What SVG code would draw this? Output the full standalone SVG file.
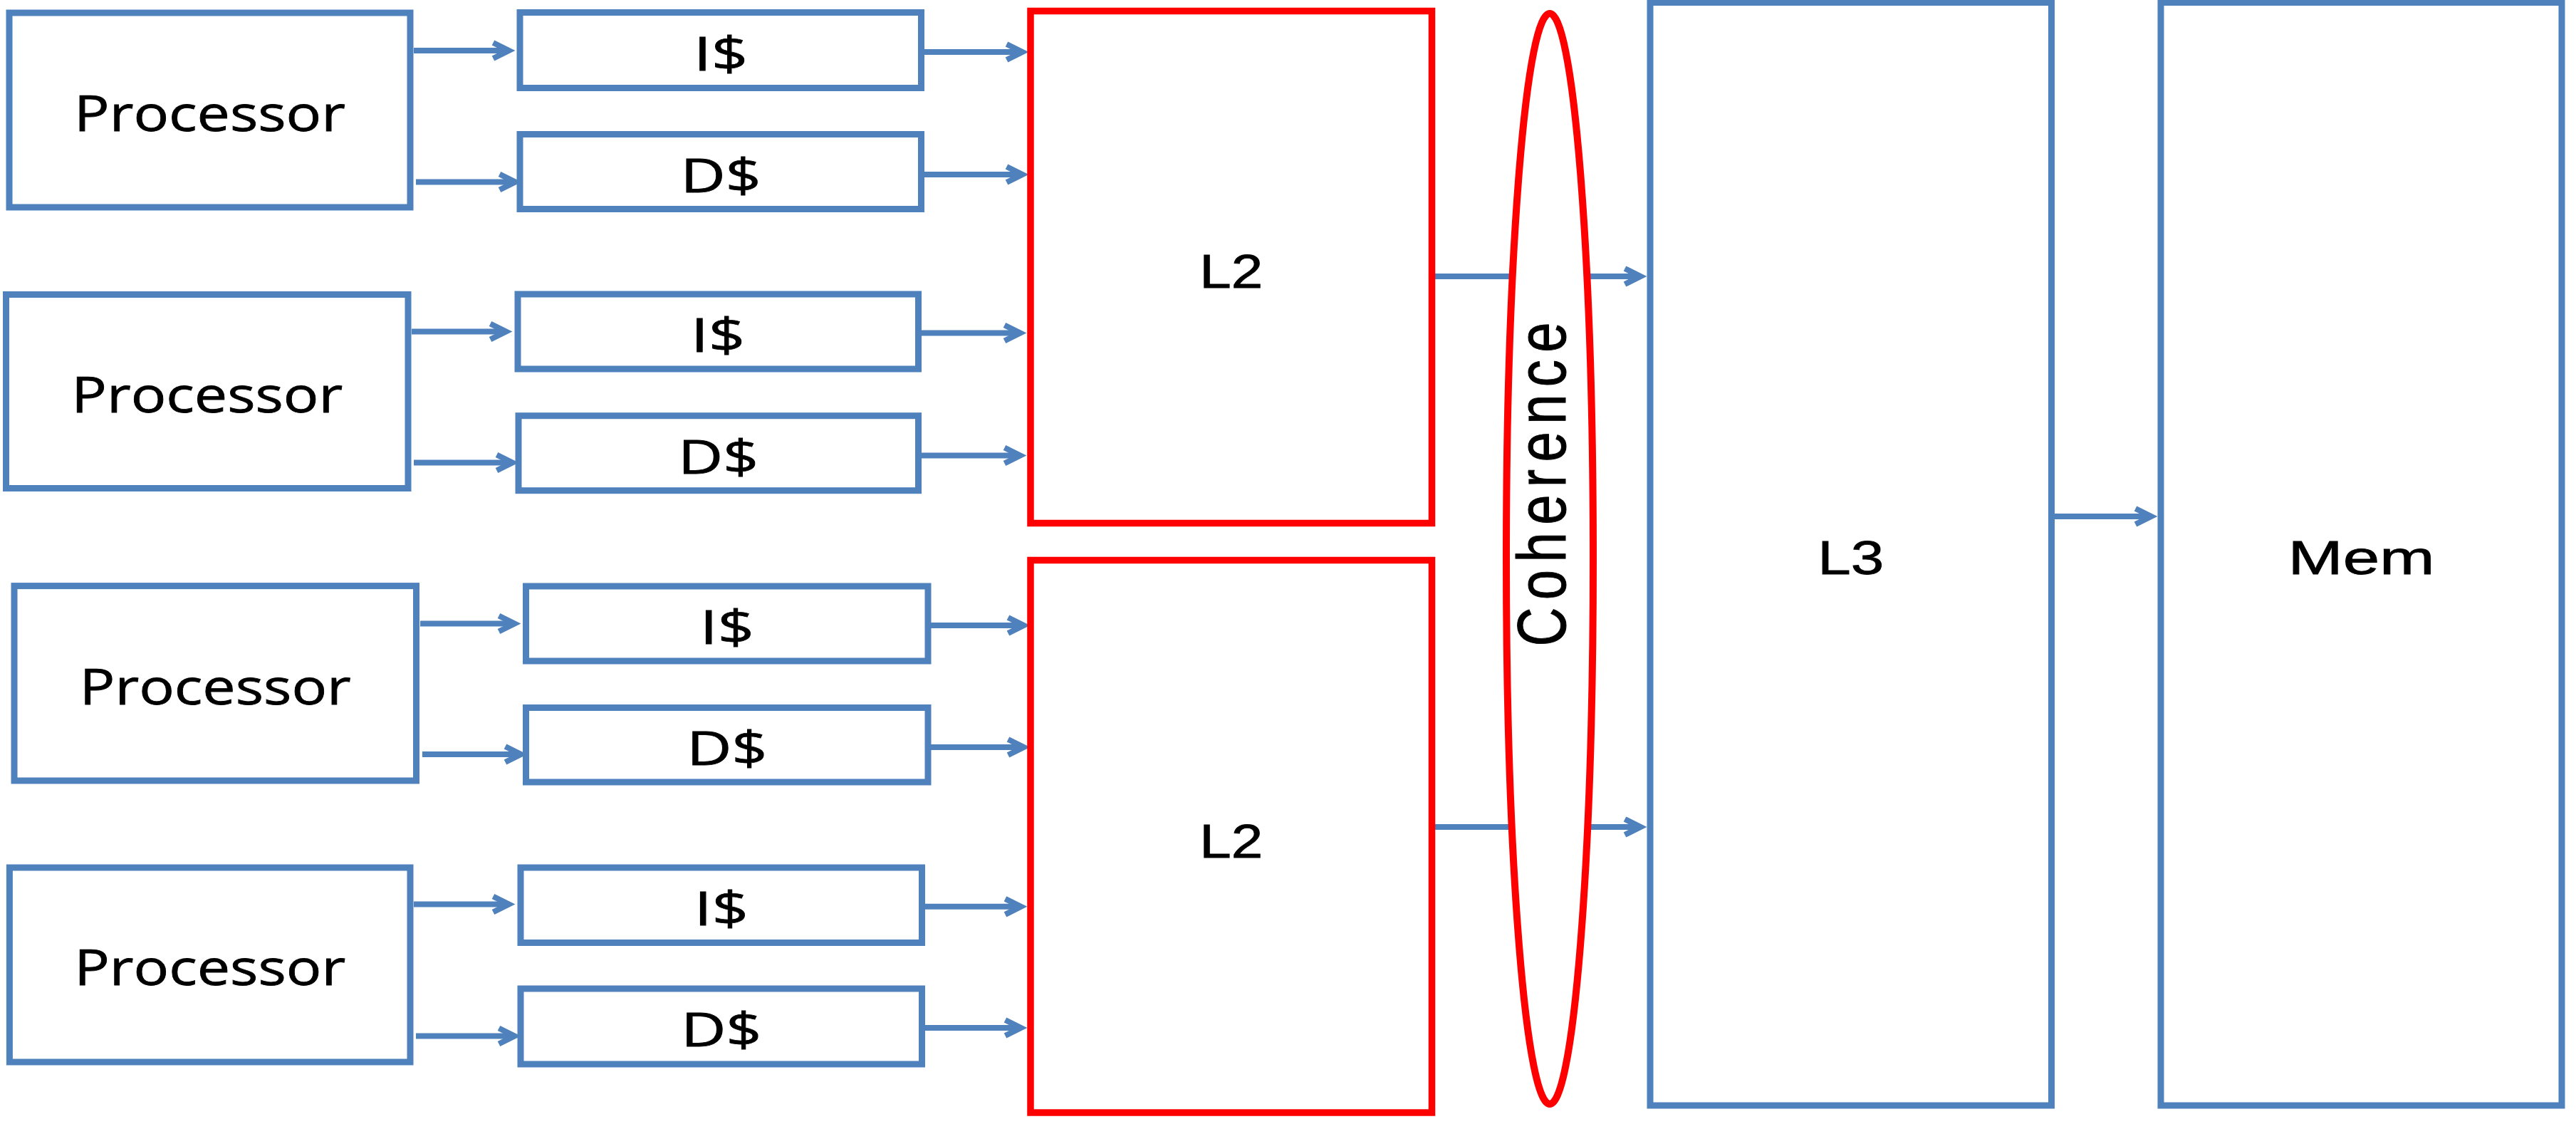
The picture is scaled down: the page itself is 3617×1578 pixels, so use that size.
<svg xmlns="http://www.w3.org/2000/svg" width="3617" height="1578" viewBox="0 0 3617 1578">
<defs>
<style>
.box{fill:#fff;stroke:#4F81BD;stroke-width:9}
.l2{fill:#fff;stroke:#FF0000;stroke-width:9.5}
.coh{fill:#fff;stroke:#FF0000;stroke-width:10}
.conn line{stroke:#4F81BD;stroke-width:8;marker-end:url(#ah)}
.tp{font-family:"Open Sans","Liberation Sans",sans-serif;font-size:69px;fill:#000;stroke:#000;stroke-width:0.8;text-anchor:middle}
.tc{font-family:"Open Sans","Liberation Sans",sans-serif;font-size:65px;fill:#000;stroke:#000;stroke-width:0.8;text-anchor:middle}
.ta{font-family:"Liberation Sans",Arial,sans-serif;fill:#000;stroke:#000;stroke-width:0.8;text-anchor:middle}
</style>
<marker id="ah" markerUnits="userSpaceOnUse" viewBox="-30 -15 45 30" markerWidth="45" markerHeight="30" refX="0" refY="0" orient="auto" overflow="visible">
<path d="M-22,-11 L0,0 L-22,11" fill="none" stroke="#4F81BD" stroke-width="8" stroke-linejoin="miter"/>
</marker>
</defs>
<rect width="3617" height="1578" fill="#fff"/>

<g id="connectors" class="conn">
<line x1="581" y1="71" x2="714.5" y2="71"/>
<line x1="584" y1="255.5" x2="723.5" y2="255.5"/>
<line x1="578" y1="465.5" x2="710.5" y2="465.5"/>
<line x1="581" y1="649.5" x2="719.5" y2="649.5"/>
<line x1="590" y1="875.5" x2="722.5" y2="875.5"/>
<line x1="593" y1="1059" x2="731.5" y2="1059"/>
<line x1="581" y1="1269.5" x2="714.5" y2="1269.5"/>
<line x1="584" y1="1454.5" x2="722.5" y2="1454.5"/>

<line x1="1298" y1="73" x2="1435.5" y2="73"/>
<line x1="1298" y1="245" x2="1435.5" y2="245"/>
<line x1="1294" y1="467.5" x2="1432.5" y2="467.5"/>
<line x1="1294" y1="639.5" x2="1432.5" y2="639.5"/>
<line x1="1307" y1="878" x2="1437.5" y2="878"/>
<line x1="1307" y1="1049" x2="1437.5" y2="1049"/>
<line x1="1299" y1="1272.8" x2="1433.5" y2="1272.8"/>
<line x1="1299" y1="1443" x2="1433.5" y2="1443"/>

<line x1="2011" y1="388" x2="2303.5" y2="388"/>
<line x1="2011" y1="1161" x2="2303.5" y2="1161"/>
<line x1="2885" y1="725" x2="3020.5" y2="725"/>
</g>

<g id="proc1"><rect class="box" x="13" y="18" width="563" height="273"/><text class="tp" x="294.5" y="183.5" textLength="381" lengthAdjust="spacingAndGlyphs">Processor</text></g>
<g id="proc2"><rect class="box" x="8.5" y="413.5" width="564.5" height="272"/><text class="tp" x="290.75" y="578.5" textLength="381" lengthAdjust="spacingAndGlyphs">Processor</text></g>
<g id="proc3"><rect class="box" x="20" y="822.6" width="564.5" height="273.4"/><text class="tp" x="302.3" y="989" textLength="381" lengthAdjust="spacingAndGlyphs">Processor</text></g>
<g id="proc4"><rect class="box" x="13.4" y="1218" width="562.6" height="273"/><text class="tp" x="294.7" y="1383" textLength="381" lengthAdjust="spacingAndGlyphs">Processor</text></g>

<g id="icache1"><rect class="box" x="730" y="17.5" width="563.5" height="106"/><text class="tc" x="1012" y="98.5" textLength="76" lengthAdjust="spacingAndGlyphs">I$</text></g>
<g id="dcache1"><rect class="box" x="730" y="188.5" width="563.5" height="105"/><text class="tc" x="1012" y="269.5" textLength="113" lengthAdjust="spacingAndGlyphs">D$</text></g>
<g id="icache2"><rect class="box" x="727" y="413" width="562.5" height="105"/><text class="tc" x="1008" y="493.5" textLength="76" lengthAdjust="spacingAndGlyphs">I$</text></g>
<g id="dcache2"><rect class="box" x="728" y="583.7" width="561.5" height="105"/><text class="tc" x="1008.5" y="664.5" textLength="113" lengthAdjust="spacingAndGlyphs">D$</text></g>
<g id="icache3"><rect class="box" x="738.5" y="823" width="564.5" height="105"/><text class="tc" x="1020.75" y="903.5" textLength="76" lengthAdjust="spacingAndGlyphs">I$</text></g>
<g id="dcache3"><rect class="box" x="738.5" y="993.5" width="564.5" height="104.5"/><text class="tc" x="1020.75" y="1073.5" textLength="113" lengthAdjust="spacingAndGlyphs">D$</text></g>
<g id="icache4"><rect class="box" x="731" y="1218" width="563.5" height="105.5"/><text class="tc" x="1012.75" y="1298.5" textLength="76" lengthAdjust="spacingAndGlyphs">I$</text></g>
<g id="dcache4"><rect class="box" x="731" y="1388" width="563.5" height="106"/><text class="tc" x="1012.75" y="1468.5" textLength="113" lengthAdjust="spacingAndGlyphs">D$</text></g>

<g id="l2a"><rect class="l2" x="1447" y="15.5" width="563.5" height="719"/><text class="ta" font-size="66" x="1728.75" y="403.5" textLength="89" lengthAdjust="spacingAndGlyphs">L2</text></g>
<g id="l2b"><rect class="l2" x="1447" y="786.5" width="563.5" height="775.5"/><text class="ta" font-size="66" x="1728.75" y="1203.5" textLength="89" lengthAdjust="spacingAndGlyphs">L2</text></g>

<g id="coherence"><ellipse class="coh" cx="2176" cy="784.5" rx="61" ry="765.5"/><text class="ta" font-size="76" stroke-width="0" transform="translate(2198,680) scale(1.28,1) rotate(-90)" x="0" y="0" textLength="455" lengthAdjust="spacing">Coherence</text></g>

<g id="l3"><rect class="box" x="2317" y="3.5" width="563.5" height="1548.5"/><text class="ta" font-size="67" x="2598.75" y="806" textLength="93" lengthAdjust="spacingAndGlyphs">L3</text></g>
<g id="mem"><rect class="box" x="3034" y="3.5" width="563" height="1548.5"/><text class="ta" font-size="67" x="3315.5" y="806" textLength="206" lengthAdjust="spacingAndGlyphs">Mem</text></g>
</svg>
